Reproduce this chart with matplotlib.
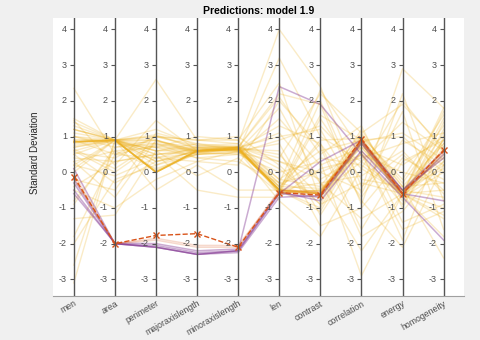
import numpy as np
import matplotlib.pyplot as plt
from matplotlib.markers import TICKLEFT

plt.rcParams['font.family'] = ['Liberation Sans', 'DejaVu Sans']

# variables on the parallel axes
features = ['men', 'area', 'perimeter', 'majoraxislength', 'minoraxislength',
            'len', 'contrast', 'correlation', 'energy', 'homogeneity']

# yellow group (standardised values)
group_yellow = [
    [0.85, 0.9, 0.0, 0.6, 0.65, -0.5, -0.55, 0.85, -0.6, 0.3],
    [0.85, 0.9, 0.0, 0.55, 0.65, -0.45, -0.6, 0.9, -0.55, 0.4],
    [0.8, 0.9, 0.05, 0.6, 0.7, -0.55, -0.5, 0.8, -0.65, 0.2],
    [0.9, 0.92, 0.0, 0.62, 0.68, -0.5, -0.6, 1.0, -0.6, 0.5],
    [0.85, 0.88, 0.02, 0.58, 0.66, -0.4, -0.45, 0.7, -0.5, 0.1],
    [1.3, 0.9, 0.5, 0.6, 0.7, 0.3, -0.2, 0.5, 0.0, -0.3],
    [2.35, 0.5, 1.0, 0.7, 0.7, -0.3, 0.0, -0.5, 2.9, 1.8],
    [1.5, 0.9, 2.6, 0.9, 0.8, 4.0, 2.4, -0.4, 0.5, -0.5],
    [1.45, 0.2, 1.45, 0.6, 0.6, 3.2, 1.0, 0.3, -0.6, 1.5],
    [1.2, 0.9, 1.2, 0.75, 0.7, 2.2, 1.9, -0.9, 2.2, -0.8],
    [1.0, 0.9, 1.05, 0.65, 0.7, 2.1, 0.5, 1.3, -1.0, 1.2],
    [0.6, 0.0, 0.8, 0.6, 0.65, 1.3, 0.8, -1.6, 0.3, 0.9],
    [0.5, -0.3, 0.3, 0.5, 0.6, -0.8, -1.8, 0.1, 2.0, 0.6],
    [0.3, -0.7, 0.9, 0.55, 0.5, 0.0, 0.3, -2.9, -0.6, -1.2],
    [-0.5, -1.0, -0.2, 0.3, 0.6, 0.8, -1.2, 0.6, -1.9, 1.0],
    [-1.3, -1.2, 0.6, -0.1, 0.4, -0.6, 1.5, -0.2, -0.4, -2.4],
    [-2.6, 0.9, 0.9, 0.6, 0.7, 0.5, -0.7, 0.9, 1.0, 0.0],
    [-3.1, 0.9, 0.7, 0.6, 0.65, -0.5, -0.3, -1.3, -0.6, 0.8],
    [-1.8, 0.5, 0.4, 0.7, 0.7, -0.2, 0.6, 0.9, -1.4, -0.9],
    [0.2, 0.9, 0.0, 0.6, 0.65, -0.55, 2.0, -0.6, 1.7, -1.6],
    [0.7, 0.9, 1.0, 0.9, 1.0, 0.2, -0.9, 1.0, -0.2, 1.6],
    [1.0, 0.8, 0.7, 1.0, 0.9, -0.6, -0.5, 0.5, -0.9, 0.7],
    [0.9, 0.9, -0.5, 0.2, -0.5, -0.5, -1.0, 0.95, -0.6, -0.5],
    [0.4, 0.3, 0.5, -0.5, -0.7, -0.7, 0.1, 0.4, 0.8, 1.1],
    [0.85, 0.9, 0.2, 0.65, 0.7, 1.0, 1.2, -0.8, -2.1, 0.2],
    [1.1, 0.9, 0.8, 0.4, 0.3, -0.3, -0.6, 1.2, -0.6, -1.0],
    [-0.8, 0.6, 0.1, 0.5, 0.7, -0.5, -0.7, 0.8, -0.7, 0.6],
    [0.0, 0.9, 0.6, 0.6, 0.65, 0.6, -1.5, -1.0, 0.4, -0.2],
    [0.65, 0.1, 0.85, 0.7, 0.75, -0.4, 0.4, 0.2, -0.6, 1.7],
    [0.85, 0.9, 0.0, 0.6, 0.65, -0.5, -0.6, 0.9, -0.65, -1.8],
    [1.2, 0.9, 0.3, 0.6, 0.65, -0.5, 1.6, 0.9, -0.5, 0.45],
    [0.85, 0.9, 0.0, 0.6, 0.7, -0.5, -0.6, 0.85, 1.1, 0.35],
    [-0.2, -0.5, 1.1, 0.8, 0.6, 1.8, -0.3, -2.2, -0.6, 0.9],
    [0.5, 0.9, 0.0, 0.6, 0.65, -0.3, 2.3, 0.6, -0.5, -0.7],
    [0.75, 0.9, 0.6, 0.7, 0.6, -0.5, -0.6, 1.05, -0.3, 1.3],
    [0.3, 0.6, 0.7, 0.4, 0.5, 1.5, 0.2, 0.7, 0.2, 1.0],
    [1.0, 0.7, 0.9, 0.5, 0.55, 0.9, 1.3, 0.1, -0.6, 0.9],
    [0.55, 0.4, 1.0, 0.75, 0.8, -0.2, -0.4, 1.1, 1.9, 0.7],
    [0.85, 0.9, 0.5, 0.55, 0.7, 0.1, -0.9, -0.3, -0.6, -1.3],
    [-0.9, 0.7, 0.8, 0.65, 0.6, -0.5, 0.9, 0.95, -0.8, 1.4],
    [0.2, -0.1, 0.4, 0.3, 0.2, 2.0, 0.7, -1.8, -1.1, 0.3],
    [1.2, 0.9, 0.9, 0.6, 0.65, -0.5, -0.6, 0.3, 1.4, 0.6],
    [0.6, 0.9, 0.6, 0.8, 0.7, 0.4, 2.2, 1.1, -0.4, 0.8],
    [-0.4, 0.3, 0.5, 0.65, 0.7, -0.6, -0.5, 0.7, -0.6, 1.8],
    [0.9, 0.5, 0.75, 0.6, 0.65, 1.1, -0.3, -0.1, 0.6, -0.6],
    [0.7, 0.9, 0.4, 0.55, 0.65, -0.5, -1.1, 0.9, -0.7, 0.0],
    [-2.0, -0.2, 0.2, 0.5, 0.55, 0.3, 0.0, 0.5, -1.6, -1.1],
    [0.85, 0.9, 0.0, 0.6, 0.65, -0.5, -0.6, 0.8, -0.6, 1.1],
    [1.4, 0.9, 1.0, 0.9, 0.9, 2.5, -0.8, 0.9, -0.4, -0.3],
    [0.1, 0.9, 0.3, 0.6, 0.6, -0.4, 0.8, -0.7, 0.9, 0.2],
]

# purple group
group_purple = [
    [-0.3, -2.0, -2.1, -2.3, -2.2, -0.6, -0.7, 0.8, -0.6, 0.5],
    [-0.5, -2.0, -2.05, -2.25, -2.2, 2.4, 1.9, 0.5, -0.7, -1.9],
    [-0.2, -2.0, -2.1, -2.3, -2.25, -0.7, -0.65, 0.85, -0.5, 0.6],
    [-0.6, -1.98, -2.0, -2.2, -2.15, -0.55, -0.8, 0.6, -0.6, -0.8],
    [0.1, -2.0, -2.1, -2.3, -2.2, -0.6, 0.3, 0.9, -0.5, 0.4],
]

# orange group
group_orange = [
    [-0.15, -2.0, -1.85, -2.05, -2.05, -0.55, -0.6, 0.85, -0.6, 0.55],
    [-0.05, -2.0, -1.9, -2.1, -2.1, -0.5, -0.55, 0.9, -0.55, 0.6],
]

# predicted sample
prediction = [-0.12, -2.0, -1.77, -1.72, -2.1, -0.57, -0.64, 0.92, -0.6, 0.62]

yticks = [-3, -2, -1, 0, 1, 2, 3, 4]

x = np.arange(1, len(features) + 1)

fig = plt.figure(figsize=(4.8, 3.4), dpi=100, facecolor='#f0f0f0')
ax = fig.add_axes([0.111, 0.129, 0.856, 0.818])
ax.set_facecolor('white')

for row in group_yellow:
    ax.plot(x, row, color='#EDB120', alpha=0.25, lw=1)
for row in group_purple:
    ax.plot(x, row, color='#7E2F8E', alpha=0.4, lw=1.1)
for row in group_orange:
    ax.plot(x, row, color='#D95319', alpha=0.22, lw=1.1)
ax.plot(x, prediction, color='#D95319', ls='--', lw=1, marker='x', ms=5, mew=1)

# one vertical axis per variable
for xi in x:
    ax.axvline(xi, color='#555555', lw=1, zorder=3)
    ax.plot([xi] * len(yticks), yticks, ls='none', marker=TICKLEFT,
            ms=3, mew=0.8, color='#555555', zorder=3)
    for t in yticks:
        ax.annotate(str(t), (xi, t), xytext=(-5, 0), textcoords='offset points',
                    ha='right', va='center', fontsize=6.5, color='#4d4d4d')

ax.set_xlim(0.5, len(features) + 0.5)
ax.set_ylim(-3.47, 4.32)
ax.set_yticks([])
ax.set_xticks(x)
ax.set_xticklabels(features, rotation=30, ha='right', va='top',
                   rotation_mode='anchor', fontsize=6.3, color='#4d4d4d')
ax.tick_params(axis='x', length=0, pad=2)
for s in ['top', 'left', 'right']:
    ax.spines[s].set_visible(False)
ax.spines['bottom'].set_color('#a0a0a0')

ax.set_title('Predictions: model 1.9', fontsize=7.5, fontweight='bold', pad=3)
fig.text(0.073, 0.55, 'Standard Deviation', rotation=90, ha='center', va='center',
         fontsize=7, color='#262626')

fig.savefig('out.png', dpi=100, facecolor=fig.get_facecolor())
